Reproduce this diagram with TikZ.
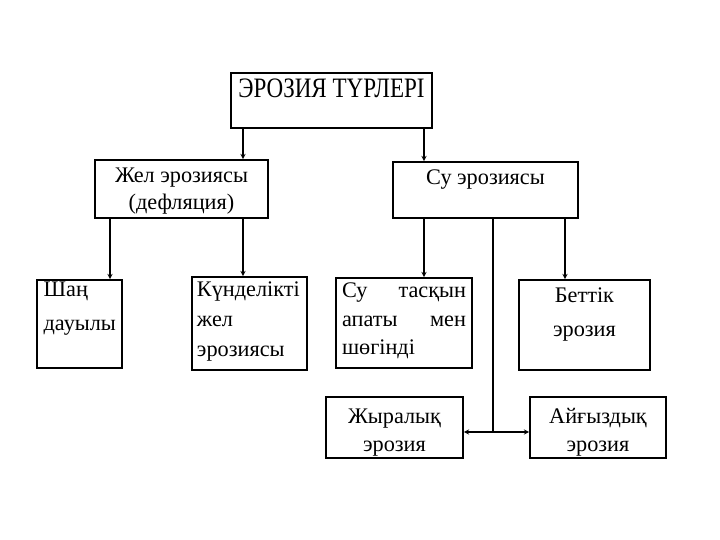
\documentclass[tikz,border=0pt]{standalone}
\usepackage{fontspec}
\setmainfont{Liberation Serif}
\newfontfamily\titlefont[FakeStretch=0.82]{Liberation Serif}
\usetikzlibrary{arrows,positioning}

\begin{document}
\begin{tikzpicture}[x=0.03cm,y=-0.03cm,>=stealth,line cap=round,line width=1pt,
                    font=\fontsize{19}{24}\selectfont,
					box/.style={draw,line width=1.5pt,inner xsep=0.15cm,inner ysep=0pt,align=flush center,anchor=base},
					leftbox/.style={box,align=left},
				]
  \useasboundingbox (0,0) rectangle (720,540);

  \node[box,font=\titlefont\fontsize{24}{28}\selectfont,minimum width=6.05cm,text height=0.75cm,text depth=0.9cm] (types) at (331.5,98) {ЭРОЗИЯ ТҮРЛЕРІ};
  \node[box,font=\fontsize{19}{23}\selectfont,text width=4.89cm,text height=0.69cm,text depth=1.05cm] (wind)  at (181.5,183) {Жел эрозиясы\\(дефляция)};
  \node[box,minimum width=5.55cm,text height=0.69cm,text depth=0.99cm] (water) at (485.5,185) {Су эрозиясы};

  \node[leftbox,font=\fontsize{19}{29}\selectfont,text width=2.15cm,inner xsep=0.2cm,text height=0.51cm,text depth=2.13cm] (dust)  at (79.5,297) {Шаң\\дауылы};
  \node[leftbox,font=\fontsize{19}{25.5}\selectfont,text width=3.15cm,text height=0.6cm,text depth=2.19cm] (daily) at (249.5,297) {Күнделікті\\жел\\эрозиясы};
  \node[leftbox,text width=3.72cm,inner xsep=0.18cm,text height=0.6cm,text depth=2.1cm] (flood) at (404,298) {\makebox[3.72cm]{Су\hfill тасқын}\\\makebox[3.72cm]{апаты\hfill мен}\\шөгінді};
  \node[box,font=\fontsize{19}{29}\selectfont,text width=3.63cm,text height=0.69cm,text depth=2.01cm] (sheet) at (584.5,303) {Беттік\\эрозия};
  \node[box,text width=3.81cm,text height=0.78cm,text depth=1.05cm] (gully) at (394.5,423) {Жыралық\\эрозия};
  \node[box,text width=3.78cm,text height=0.78cm,text depth=1.05cm] (rill)  at (598,423)   {Айғыздық\\эрозия};

  % columns of the connectors
  \coordinate (c1) at (243,0);
  \coordinate (c2) at (424,0);
  \coordinate (c3) at (110,0);
  \coordinate (c4) at (565,0);
  \coordinate (c5) at (493,0);
  \coordinate (fork) at (493,432);

  \path[->] (types.south -| c1) edge (wind.north -| c1)
        (types.south -| c2) edge (water.north -| c2)
        (wind.south -| c3)  edge (dust.north -| c3)
        (wind.south -| c1)  edge (daily.north -| c1)
        (water.south -| c2) edge (flood.north -| c2)
        (water.south -| c4) edge (sheet.north -| c4)
        (fork)              edge (gully.east |- fork)
        (fork)              edge (rill.west |- fork)
		;
  \draw (water.south -| c5) -- (fork);
\end{tikzpicture}
\end{document}
